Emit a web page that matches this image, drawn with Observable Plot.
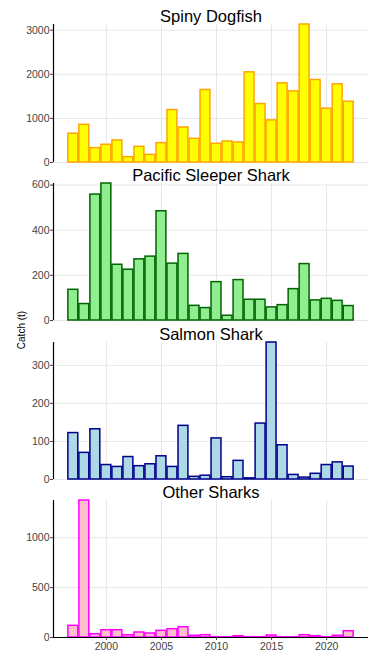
<!DOCTYPE html>
<html><head><meta charset="utf-8">
<script src="https://cdn.jsdelivr.net/npm/d3@7"></script>
<script src="https://cdn.jsdelivr.net/npm/@observablehq/plot@0.6"></script>
<style>
body{margin:0;background:#fff;font-family:"Liberation Sans",Arial,sans-serif;}
#wrap{position:relative;width:375px;height:658px;overflow:hidden;}
#wrap svg{display:block;}
#ylab{position:absolute;left:21px;top:330px;transform:translate(-50%,-50%) rotate(-90deg);font-size:10px;color:#000;white-space:nowrap;z-index:2;}
</style></head>
<body><div id="wrap"><div id="ylab">Catch (t)</div></div>
<script>
const years = [1997,1998,1999,2000,2001,2002,2003,2004,2005,2006,2007,2008,2009,2010,2011,2012,2013,2014,2015,2016,2017,2018,2019,2020,2021,2022];
const spinyDogfish = [652,856,326,402,500,121,356,174,439,1189,795,538,1644,424,477,455,2045,1326,955,1795,1614,3130,1871,1220,1773,1379];
const pacificSleeper = [136,73,558,607,247,225,271,283,484,252,295,65,55,170,21,179,92,92,58,68,139,250,89,96,87,64];
const salmonShark = [122,70,132,38,33,59,35,40,61,33,141,7,10,108,6,49,3,147,360,90,12,5,15,38,45,34];
const otherSharks = [117,1373,33,73,73,23,50,40,67,83,103,17,23,3,3,13,3,3,20,2,2,23,13,3,17,63];
const xTicks = [2000,2005,2010,2015,2020];
const ticksDogfish = [0,1000,2000,3000];
const ticksSleeper = [0,200,400,600];
const ticksSalmon = [0,100,200,300];
const ticksOther = [0,500,1000];

const xDomain = [d3.min(years) - 1.8, d3.max(years) + 1.8];

function panel(name, values, yTicks, fill, stroke, layout, showX) {
  const data = years.map((y, i) => ({year: y, value: values[i]}));
  const marks = [
    Plot.gridX(xTicks, {stroke: "#e6e6e6", strokeOpacity: 1, strokeWidth: 1}),
    Plot.gridY(yTicks, {stroke: "#e6e6e6", strokeOpacity: 1, strokeWidth: 1}),
    Plot.rectY(data, {x1: d => d.year - 0.45, x2: d => d.year + 0.45, y1: 0, y2: "value", fill, stroke, strokeWidth: 1.5}),
    Plot.ruleX([xDomain[0]], {stroke: "#000", strokeWidth: 1.2}),
    Plot.axisY(yTicks, {tickSize: 3, tickPadding: 1, tickFormat: "d", label: null, color: "#444", fontSize: 10.5}),
    Plot.text([name], {text: d => d, frameAnchor: "top", lineAnchor: "bottom", dy: -2.5, fontSize: 16.5, fill: "#000"})
  ];
  if (showX) {
    marks.push(Plot.ruleY([0], {stroke: "#000", strokeWidth: 1.2}));
    marks.push(Plot.axisX(xTicks, {tickSize: 3, tickPadding: 2, tickFormat: "d", label: null, color: "#444", fontSize: 10.5}));
  }
  return Plot.plot({
    width: 375,
    height: layout.height,
    marginLeft: 53,
    marginRight: 7,
    marginTop: layout.top,
    marginBottom: layout.bottom,
    style: {fontFamily: "'Liberation Sans', Arial, sans-serif", background: "transparent", overflow: "visible"},
    x: {domain: xDomain, axis: null},
    y: {domain: [0, d3.max(values)], axis: null},
    marks
  });
}

const wrap = document.getElementById("wrap");
wrap.appendChild(panel("Spiny Dogfish", spinyDogfish, ticksDogfish, "#FFFF00", "#FFA500", {height: 167, top: 24, bottom: 5}, false));
wrap.appendChild(panel("Pacific Sleeper Shark", pacificSleeper, ticksSleeper, "#90EE90", "#006400", {height: 158, top: 16, bottom: 5}, false));
wrap.appendChild(panel("Salmon Shark", salmonShark, ticksSalmon, "#ADD8E6", "#00008B", {height: 159, top: 17, bottom: 5}, false));
wrap.appendChild(panel("Other Sharks", otherSharks, ticksOther, "#FFC0CB", "#FF00FF", {height: 174, top: 16, bottom: 21}, true));
</script>
</body></html>
